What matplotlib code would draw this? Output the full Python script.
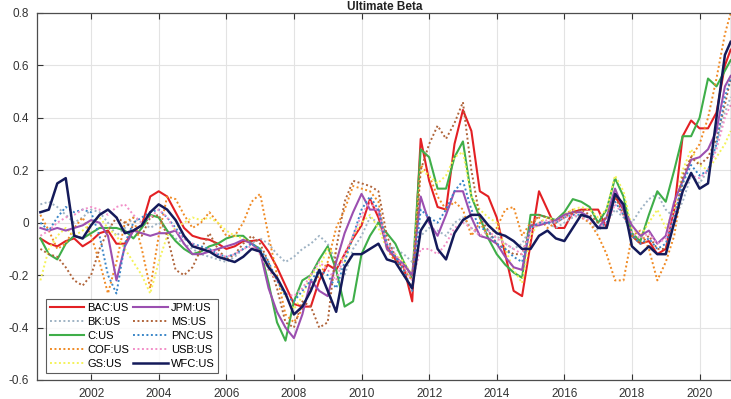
import numpy as np
import matplotlib
matplotlib.use("Agg")
import matplotlib.pyplot as plt

plt.rcParams["font.family"] = ["Liberation Sans", "DejaVu Sans"]
plt.rcParams["axes.unicode_minus"] = False

# quarterly dates, mid-2000 to end-2020
years = list(np.arange(2000.5, 2020.76, 0.25)) + [2020.92]

bac = [-0.06, -0.08, -0.09, -0.07, -0.06, -0.09, -0.07, -0.04, -0.03, -0.08,
       -0.08, -0.03, -0.01, 0.10, 0.12, 0.10, 0.04, -0.02, -0.05, -0.06,
       -0.065, -0.08, -0.10, -0.09, -0.07, -0.07, -0.065, -0.11, -0.17, -0.24,
       -0.31, -0.32, -0.32, -0.22, -0.16, -0.18, -0.12, -0.06, -0.01, 0.09,
       0.02, -0.09, -0.14, -0.17, -0.30, 0.32, 0.16, 0.06, 0.05, 0.30,
       0.43, 0.35, 0.12, 0.10, 0.02, -0.12, -0.26, -0.28, -0.08, 0.12,
       0.05, -0.02, -0.02, 0.04, 0.05, 0.05, 0.05, -0.02, 0.10, 0.05,
       -0.05, -0.08, -0.07, -0.12, -0.10, 0.05, 0.33, 0.39, 0.36, 0.36,
       0.42, 0.60, 0.66]
bk = [0.07, 0.08, 0.06, 0.03, 0.00, 0.02, 0.05, 0.04, 0.00, -0.05,
      -0.02, 0.02, 0.00, -0.02, 0.00, -0.03, -0.06, -0.08, -0.10, -0.12,
      -0.13, -0.14, -0.15, -0.13, -0.10, -0.08, -0.06, -0.08, -0.12, -0.15,
      -0.13, -0.10, -0.08, -0.05, -0.08, -0.15, -0.20, -0.10, -0.05, 0.02,
      0.00, -0.08, -0.10, -0.12, -0.15, -0.05, -0.02, -0.03, -0.05, 0.00,
      0.02, -0.02, -0.05, -0.06, -0.05, -0.08, -0.10, -0.08, -0.02, 0.00,
      0.00, -0.02, 0.00, 0.02, 0.03, 0.00, -0.03, 0.00, 0.05, 0.02,
      0.00, 0.05, 0.09, 0.11, 0.05, 0.02, 0.08, 0.18, 0.15, 0.20,
      0.30, 0.42, 0.48]
c = [-0.06, -0.12, -0.14, -0.08, -0.05, -0.06, -0.04, -0.02, -0.02, -0.02,
     -0.03, -0.06, -0.02, 0.03, 0.02, -0.03, -0.07, -0.10, -0.12, -0.11,
     -0.09, -0.08, -0.06, -0.05, -0.05, -0.08, -0.10, -0.23, -0.38, -0.45,
     -0.30, -0.22, -0.20, -0.14, -0.09, -0.18, -0.32, -0.30, -0.12, -0.05,
     0.00, -0.04, -0.08, -0.15, -0.21, 0.28, 0.25, 0.13, 0.13, 0.25,
     0.31, 0.10, 0.02, -0.06, -0.12, -0.16, -0.19, -0.21, 0.03, 0.03,
     0.02, 0.01, 0.04, 0.09, 0.08, 0.06, 0.00, 0.05, 0.17, 0.10,
     -0.04, -0.07, 0.03, 0.12, 0.08, 0.20, 0.33, 0.33, 0.40, 0.55,
     0.52, 0.58, 0.62]
cof = [0.03, -0.03, -0.10, -0.08, -0.02, 0.02, -0.05, -0.15, -0.27, -0.15,
       0.00, 0.02, -0.10, -0.25, -0.05, 0.10, 0.09, 0.03, -0.02, 0.00,
       0.04, 0.00, -0.05, -0.05, 0.00, 0.08, 0.11, -0.05, -0.20, -0.35,
       -0.38, -0.33, -0.25, -0.20, -0.15, -0.02, 0.05, 0.14, 0.13, 0.12,
       0.08, -0.10, -0.15, -0.18, -0.22, 0.22, 0.18, 0.10, 0.05, 0.08,
       0.05, -0.05, 0.00, -0.05, -0.02, 0.05, 0.06, -0.05, 0.00, 0.02,
       -0.02, 0.00, 0.03, 0.05, 0.02, 0.00, -0.05, -0.12, -0.22, -0.22,
       -0.05, -0.03, -0.10, -0.22, -0.15, -0.05, 0.15, 0.25, 0.30, 0.40,
       0.55, 0.72, 0.80]
gs = [-0.22, -0.10, -0.05, -0.02, -0.05, -0.03, 0.00, 0.02, -0.02, -0.05,
      -0.10, -0.15, -0.20, -0.27, -0.15, -0.05, -0.02, 0.00, 0.02, 0.01,
      0.02, 0.00, -0.03, -0.05, -0.06, -0.08, -0.12, -0.18, -0.22, -0.28,
      -0.33, -0.28, -0.20, -0.17, -0.10, -0.12, -0.15, -0.05, 0.00, 0.03,
      -0.02, -0.10, -0.12, -0.15, -0.20, 0.20, 0.18, 0.15, 0.18, 0.25,
      0.27, 0.10, 0.05, 0.02, 0.00, -0.10, -0.18, -0.23, -0.05, 0.00,
      0.02, 0.01, 0.03, 0.05, 0.06, 0.05, 0.02, 0.05, 0.18, 0.12,
      -0.02, -0.05, 0.00, 0.05, -0.02, 0.05, 0.20, 0.28, 0.22, 0.20,
      0.25, 0.30, 0.35]
jpm = [-0.02, -0.03, -0.02, -0.03, -0.02, -0.01, 0.01, 0.00, -0.05, -0.22,
       -0.09, -0.03, -0.04, -0.05, -0.04, -0.04, -0.03, -0.08, -0.12, -0.12,
       -0.11, -0.10, -0.09, -0.08, -0.065, -0.08, -0.11, -0.25, -0.34, -0.40,
       -0.44, -0.35, -0.22, -0.26, -0.28, -0.15, -0.04, 0.04, 0.11, 0.05,
       0.05, -0.10, -0.13, -0.16, -0.20, 0.10, 0.00, -0.05, 0.03, 0.12,
       0.12, 0.02, -0.05, -0.06, -0.08, -0.13, -0.17, -0.18, -0.01, -0.01,
       0.00, 0.01, 0.03, 0.04, 0.04, 0.02, -0.02, 0.02, 0.13, 0.05,
       -0.01, -0.05, -0.03, -0.08, -0.05, 0.08, 0.16, 0.24, 0.25, 0.28,
       0.35, 0.52, 0.56]
ms = [-0.10, -0.12, -0.13, -0.17, -0.22, -0.24, -0.20, -0.10, -0.03, 0.02,
      0.00, -0.02, -0.05, 0.02, 0.03, -0.05, -0.18, -0.20, -0.17, -0.10,
      -0.04, -0.10, -0.14, -0.12, -0.08, -0.05, -0.08, -0.15, -0.25, -0.38,
      -0.40, -0.30, -0.32, -0.40, -0.38, -0.10, 0.08, 0.16, 0.15, 0.14,
      0.12, -0.05, -0.13, -0.20, -0.25, 0.20, 0.30, 0.37, 0.32, 0.38,
      0.46, 0.20, 0.02, -0.03, -0.08, -0.10, -0.12, -0.12, -0.02, 0.03,
      0.02, 0.00, 0.02, 0.04, 0.05, 0.03, 0.00, 0.02, 0.10, 0.03,
      -0.05, -0.08, -0.05, -0.10, -0.10, 0.00, 0.18, 0.25, 0.22, 0.25,
      0.32, 0.45, 0.55]
pnc = [0.00, -0.03, 0.02, 0.06, 0.04, 0.05, 0.04, -0.05, -0.20, -0.27,
       -0.08, 0.00, 0.02, 0.04, 0.05, 0.02, -0.02, -0.06, -0.08, -0.09,
       -0.10, -0.12, -0.13, -0.12, -0.10, -0.08, -0.10, -0.15, -0.22, -0.28,
       -0.30, -0.26, -0.22, -0.18, -0.20, -0.25, -0.15, -0.05, 0.05, 0.10,
       0.05, -0.08, -0.13, -0.18, -0.26, 0.05, 0.02, 0.00, 0.05, 0.12,
       0.16, 0.05, -0.02, -0.03, -0.08, -0.10, -0.13, -0.15, -0.02, 0.00,
       0.00, 0.00, 0.02, 0.03, 0.03, 0.02, -0.02, 0.00, 0.08, 0.03,
       -0.05, -0.08, -0.06, -0.10, -0.08, 0.02, 0.15, 0.22, 0.18, 0.20,
       0.30, 0.48, 0.55]
usb = [-0.05, -0.03, 0.00, 0.02, 0.03, 0.05, 0.06, 0.05, 0.03, 0.06,
       0.07, 0.03, 0.00, 0.02, 0.05, 0.02, -0.03, -0.06, -0.08, -0.10,
       -0.10, -0.12, -0.13, -0.12, -0.10, -0.09, -0.12, -0.18, -0.22, -0.27,
       -0.28, -0.25, -0.20, -0.15, -0.18, -0.22, -0.12, -0.05, 0.03, 0.08,
       0.04, -0.08, -0.12, -0.17, -0.22, -0.10, -0.10, -0.12, -0.08, -0.02,
       0.00, -0.02, -0.05, -0.03, -0.06, -0.08, -0.10, -0.12, -0.03, 0.00,
       0.01, 0.00, 0.02, 0.03, 0.02, 0.01, -0.02, 0.00, 0.07, 0.03,
       -0.04, -0.06, -0.04, -0.08, -0.06, 0.02, 0.12, 0.18, 0.17, 0.20,
       0.28, 0.40, 0.45]
wfc = [0.04, 0.05, 0.15, 0.17, -0.05, -0.06, -0.01, 0.03, 0.05, 0.02,
       -0.04, -0.03, -0.01, 0.04, 0.07, 0.05, 0.01, -0.05, -0.09, -0.10,
       -0.11, -0.13, -0.14, -0.15, -0.13, -0.10, -0.11, -0.17, -0.21, -0.27,
       -0.35, -0.32, -0.26, -0.18, -0.26, -0.34, -0.17, -0.12, -0.12, -0.10,
       -0.08, -0.14, -0.15, -0.20, -0.25, -0.03, 0.02, -0.10, -0.14, -0.04,
       0.01, 0.03, 0.03, -0.01, -0.04, -0.05, -0.07, -0.10, -0.10, -0.05,
       -0.03, -0.06, -0.07, -0.02, 0.03, 0.02, -0.02, -0.02, 0.11, 0.07,
       -0.09, -0.12, -0.09, -0.12, -0.12, 0.00, 0.12, 0.19, 0.13, 0.15,
       0.40, 0.64, 0.69]

# (label, values, colour, style, width)
series = [
    ("BAC:US", bac, "#e32024", "-", 1.5),
    ("BK:US", bk, "#9fb3c4", ":", 1.4),
    ("C:US", c, "#3fae49", "-", 1.5),
    ("COF:US", cof, "#f08a24", ":", 1.4),
    ("GS:US", gs, "#f4f25a", ":", 1.4),
    ("JPM:US", jpm, "#9b4fb0", "-", 1.5),
    ("MS:US", ms, "#b0643a", ":", 1.4),
    ("PNC:US", pnc, "#3a86c8", ":", 1.4),
    ("USB:US", usb, "#f28fc8", ":", 1.4),
    ("WFC:US", wfc, "#141a5a", "-", 1.8),
]

fig = plt.figure(figsize=(7.31, 3.99), dpi=100)
ax = fig.add_axes([37 / 731, 1 - 380 / 399, 694 / 731, 367 / 399])

for name, vals, col, ls, lw in series:
    style = (0, (1, 1.3)) if ls == ":" else "-"
    ax.plot(years, vals, color=col, linestyle=style, linewidth=lw, label=name)

ax.set_xlim(2000.4, 2020.93)
ax.set_ylim(-0.6, 0.8)
ax.set_xticks(range(2002, 2021, 2))
ax.set_yticks(np.round(np.arange(-0.6, 0.81, 0.2), 1))
ax.set_yticklabels(["-0.6", "-0.4", "-0.2", "0", "0.2", "0.4", "0.6", "0.8"])
ax.grid(True, color="#e3e3e3", linewidth=0.8)
ax.set_axisbelow(True)
ax.tick_params(direction="in", top=True, length=4, labelsize=8.5,
               colors="#333333", pad=6)
for sp in ax.spines.values():
    sp.set_color("#4d4d4d")
    sp.set_linewidth(0.9)

leg = ax.legend(loc="lower left", bbox_to_anchor=(0.013, 0.02), ncol=2,
                fontsize=8, frameon=True, fancybox=False, handlelength=3.1,
                handletextpad=0.25, columnspacing=0.4, labelspacing=0.35,
                borderpad=0.35, borderaxespad=0)
leg.get_frame().set_edgecolor("#333333")
leg.get_frame().set_linewidth(0.8)

# title sits right at the top edge, kept fully inside the canvas
fig.text(0.527, 1 - 1 / 399, "Ultimate Beta", ha="center", va="top",
         fontsize=8.5, fontweight="bold", color="#222222")

fig.savefig("out.png", dpi=100)
